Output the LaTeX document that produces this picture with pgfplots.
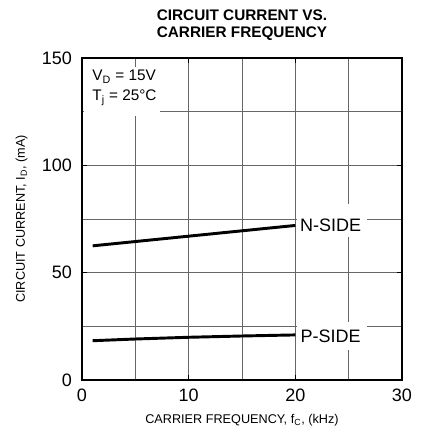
\documentclass[border=0pt]{standalone}
\usepackage{pgfplots}
\pgfplotsset{compat=1.18}
\usepackage{fontspec}
\setmainfont{Liberation Sans}
\begin{document}
\begin{tikzpicture}
\useasboundingbox (-61.5pt,-39.75pt) rectangle (254.25pt,285pt);
\begin{axis}[
 at={(0,0)}, anchor=south west,
 scale only axis, width=240pt, height=241.5pt,
 xmin=0,xmax=30,ymin=0,ymax=150,
 xtick={0,10,20,30}, ytick={0,50,100,150},
 minor xtick={5,15,25}, minor ytick={25,75,125},
 grid=both,
 major grid style={black!60, line width=0.6pt},
 minor grid style={black!60, line width=0.6pt},
 axis line style={line width=1.5pt},
 tick style={black, line width=1.2pt},
 major tick length=4pt, minor tick length=0pt,
 tick align=inside,
 ticklabel style={font=\fontsize{13.5}{15}\selectfont},
 /pgf/number format/assume math mode=true,
 xticklabel style={yshift=-3pt},
 yticklabel style={xshift=-4pt},
 xlabel={CARRIER FREQUENCY, f\textsubscript{C}, (kHz)},
 ylabel={CIRCUIT CURRENT, I\textsubscript{D}, (mA)},
 label style={font=\fontsize{9.5}{11}\selectfont},
 xlabel style={yshift=-3pt},
 ylabel style={yshift=4pt},
 clip=false,
]
\fill[white] (axis cs:0.2,145.8) rectangle (axis cs:7.3,122.9);
\node[anchor=base west, inner sep=0pt, align=left, font=\fontsize{11.5}{15}\selectfont]
  at (axis cs:0.95,130) {V\textsubscript{D} = 15V\\T\textsubscript{j} = 25\textdegree C};
\fill[white] (axis cs:20.15,81.8) rectangle (axis cs:26.7,66.4);
\fill[white] (axis cs:20.15,27.1) rectangle (axis cs:26.7,14.0);
\node[font=\fontsize{13.5}{15}\selectfont, inner sep=0pt] at (axis cs:23.3,72) {N-SIDE};
\node[font=\fontsize{13.5}{15}\selectfont, inner sep=0pt] at (axis cs:23.3,20.2) {P-SIDE};
\addplot[black, line width=2.2pt] coordinates {(1,62.5) (5,64.5) (10,67) (15,69.5) (20,72)};
\addplot[black, line width=2.2pt] coordinates {(1,18.3) (5,19.1) (10,19.9) (15,20.5) (20,21)};
\node[anchor=south, inner sep=0pt, align=center, font=\fontsize{11.5}{12.5}\selectfont\bfseries]
  at (axis cs:15,150) [yshift=13pt] {CIRCUIT CURRENT VS.\\CARRIER FREQUENCY};
\end{axis}
\end{tikzpicture}
\end{document}
